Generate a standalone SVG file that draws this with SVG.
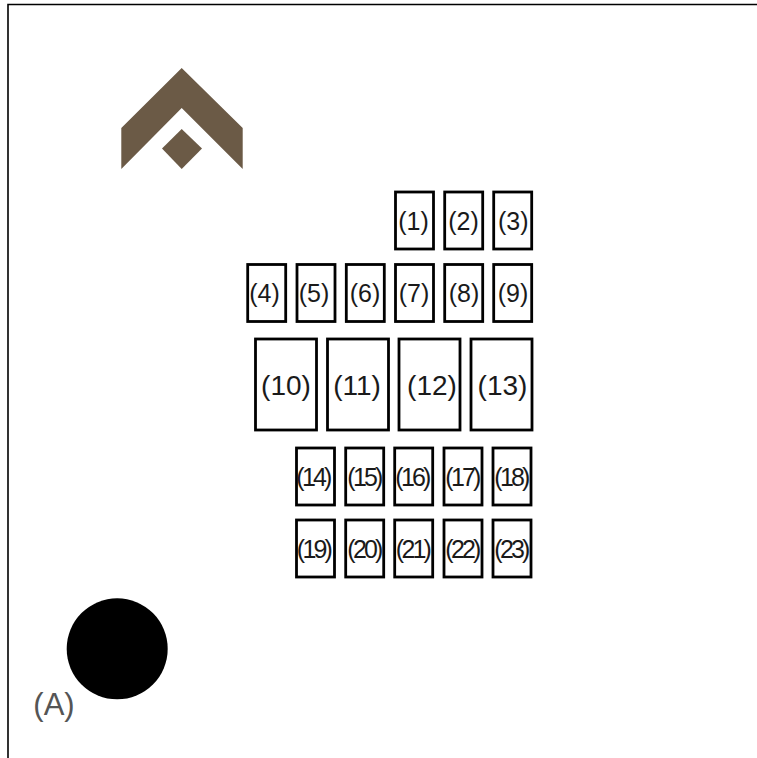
<svg xmlns="http://www.w3.org/2000/svg" width="757" height="758" viewBox="0 0 757 758">
<style>
.b{fill:#fff;stroke:#000;stroke-width:2.800}
.t{font-family:"Liberation Sans",Arial,sans-serif;fill:#1a1a1a;text-anchor:middle}
.s{font-size:25px}
.m{font-size:25px;letter-spacing:-2.800px}
.l{font-size:28px}
.logo{fill:#6b5a46}
</style>
<rect width="757" height="758" fill="#fff"/>
<path id="frame" d="M8 758V4.500H757" fill="none" stroke="#000" stroke-width="1.600"/>
<g id="logo"><path class="logo" d="M181.700 68L242.700 128V169L181.700 108L121.300 169V128Z"/><path class="logo" d="M181.700 129L202 148.500L181.700 169L162 148.500Z"/></g>
<g id="n1"><rect class="b" x="395.500" y="192" width="38" height="57"/><text class="t s" x="413.500" y="229.500">(1)</text></g>
<g id="n2"><rect class="b" x="444.700" y="192" width="38" height="57"/><text class="t s" x="463.500" y="229.500">(2)</text></g>
<g id="n3"><rect class="b" x="493.700" y="192" width="38" height="57"/><text class="t s" x="513.300" y="229.500">(3)</text></g>
<g id="n4"><rect class="b" x="247.700" y="264.500" width="38" height="57"/><text class="t s" x="264.500" y="301.500">(4)</text></g>
<g id="n5"><rect class="b" x="297" y="264.500" width="38" height="57"/><text class="t s" x="314" y="301.500">(5)</text></g>
<g id="n6"><rect class="b" x="346.300" y="264.500" width="38" height="57"/><text class="t s" x="365" y="301.500">(6)</text></g>
<g id="n7"><rect class="b" x="395.500" y="264.500" width="38" height="57"/><text class="t s" x="414" y="301.500">(7)</text></g>
<g id="n8"><rect class="b" x="444.700" y="264.500" width="38" height="57"/><text class="t s" x="464" y="301.500">(8)</text></g>
<g id="n9"><rect class="b" x="493.700" y="264.500" width="38" height="57"/><text class="t s" x="513" y="301.500">(9)</text></g>
<g id="n10"><rect class="b" x="255.500" y="339" width="61" height="91"/><text class="t l" x="286" y="395">(10)</text></g>
<g id="n11"><rect class="b" x="327.500" y="339" width="61" height="91"/><text class="t l" x="357" y="395">(11)</text></g>
<g id="n12"><rect class="b" x="399" y="339" width="61" height="91"/><text class="t l" x="432" y="395">(12)</text></g>
<g id="n13"><rect class="b" x="471" y="339" width="61" height="91"/><text class="t l" x="502.500" y="395">(13)</text></g>
<g id="n14"><rect class="b" x="296.500" y="448" width="38" height="57"/><text class="t m" x="313" y="485.500">(14)</text></g>
<g id="n15"><rect class="b" x="345.700" y="448" width="38" height="57"/><text class="t m" x="364" y="485.500">(15)</text></g>
<g id="n16"><rect class="b" x="394.700" y="448" width="38" height="57"/><text class="t m" x="412" y="485.500">(16)</text></g>
<g id="n17"><rect class="b" x="444" y="448" width="38" height="57"/><text class="t m" x="462" y="485.500">(17)</text></g>
<g id="n18"><rect class="b" x="493" y="448" width="38" height="57"/><text class="t m" x="511" y="485.500">(18)</text></g>
<g id="n19"><rect class="b" x="296.500" y="520" width="38" height="57"/><text class="t m" x="313.500" y="557.500">(19)</text></g>
<g id="n20"><rect class="b" x="345.700" y="520" width="38" height="57"/><text class="t m" x="364" y="557.500">(20)</text></g>
<g id="n21"><rect class="b" x="394.700" y="520" width="38" height="57"/><text class="t m" x="412.500" y="557.500">(21)</text></g>
<g id="n22"><rect class="b" x="444" y="520" width="38" height="57"/><text class="t m" x="462" y="557.500">(22)</text></g>
<g id="n23"><rect class="b" x="493" y="520" width="38" height="57"/><text class="t m" x="511" y="557.500">(23)</text></g>
<g id="marker-a"><circle cx="117.200" cy="648.800" r="50.500" fill="#000"/><text x="54" y="715" font-family="'Liberation Sans',Arial,sans-serif" font-size="31" fill="#555" text-anchor="middle">(A)</text></g>
<g id="connectors"/>
</svg>
